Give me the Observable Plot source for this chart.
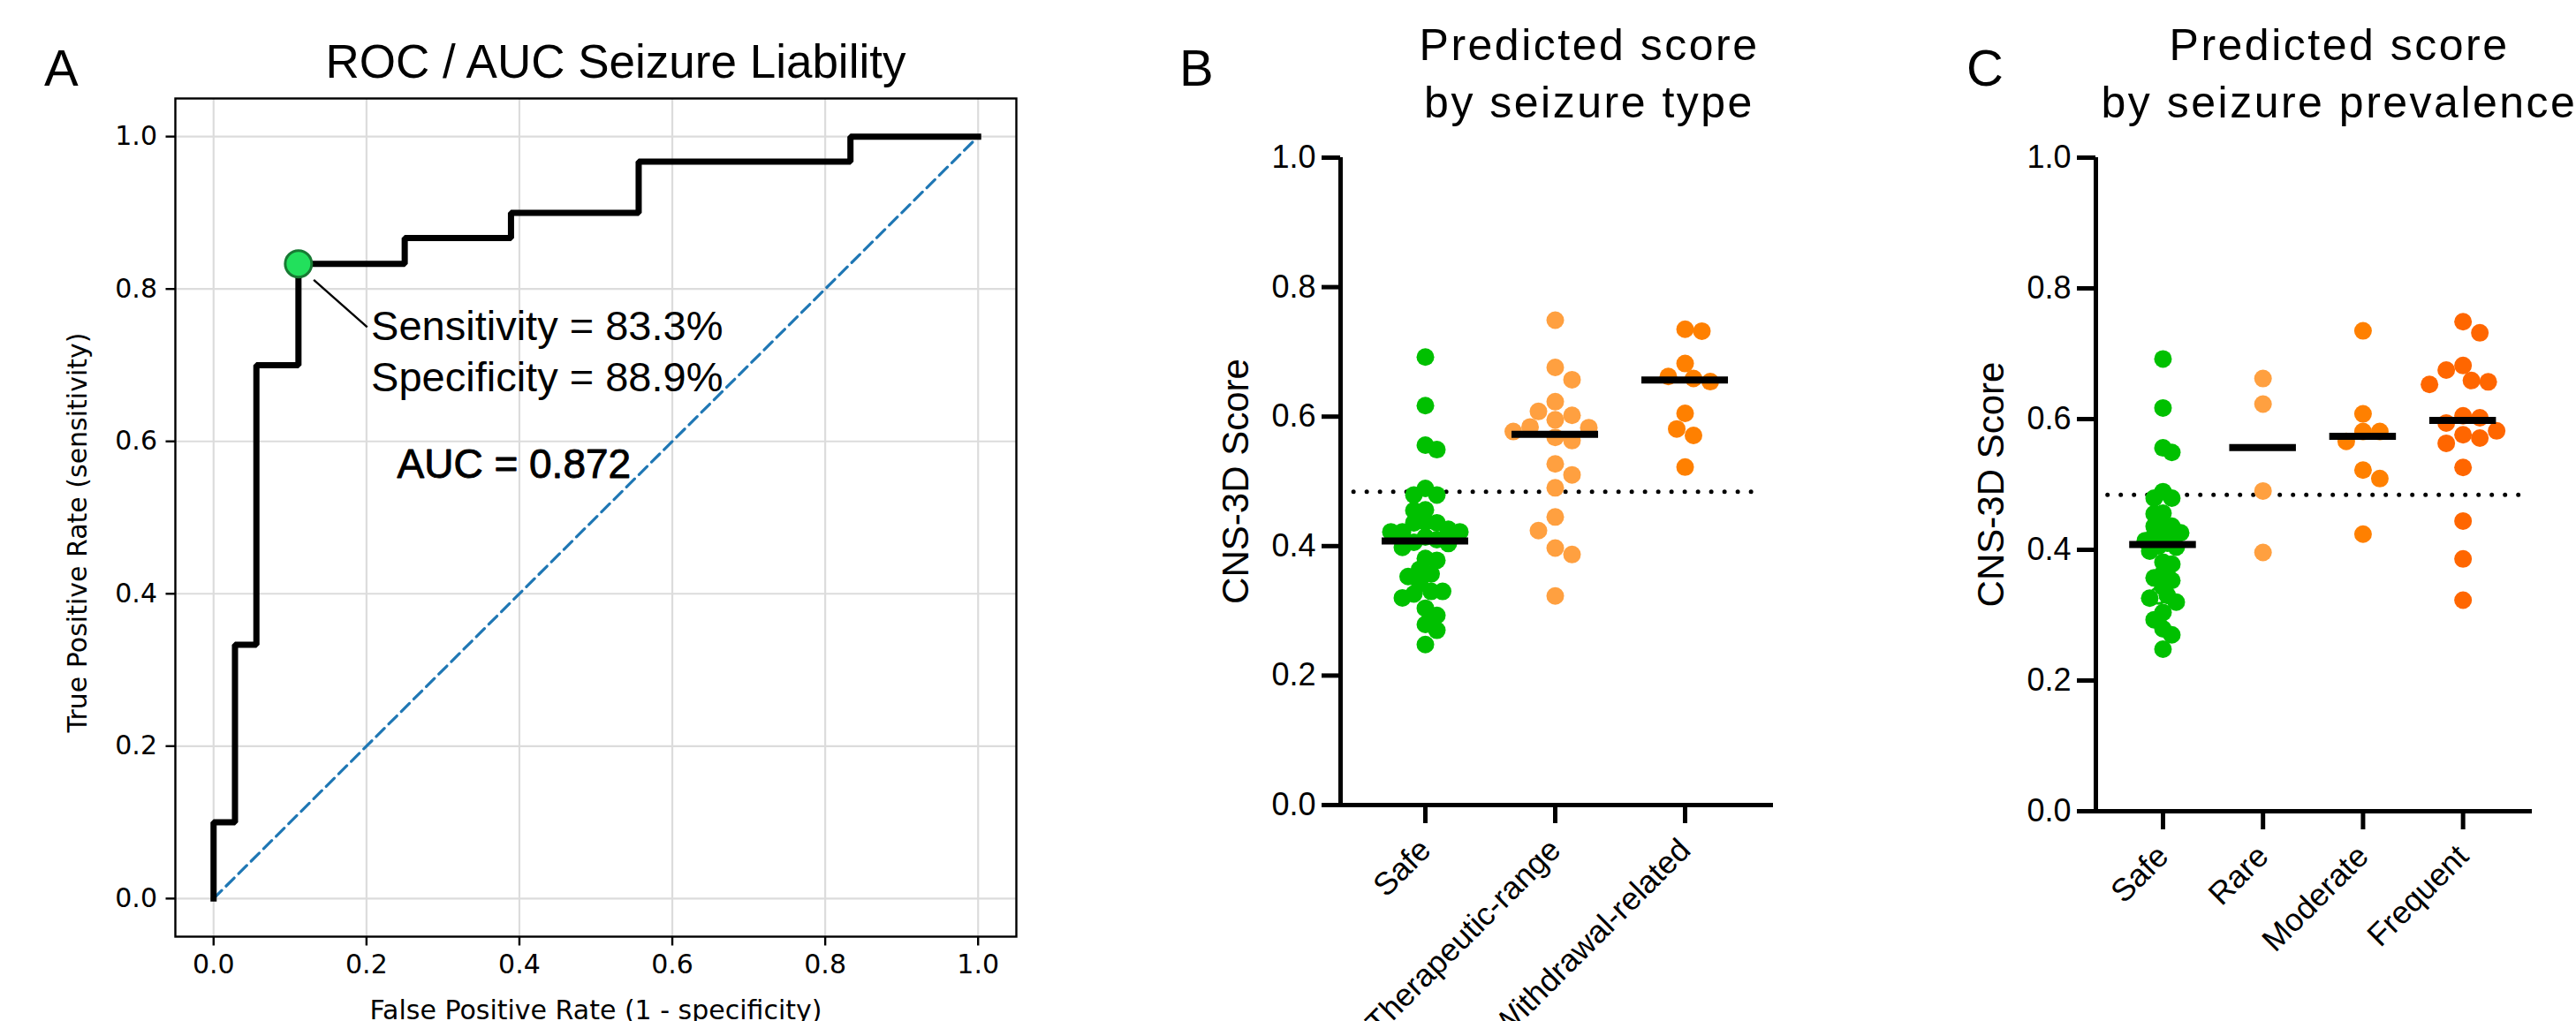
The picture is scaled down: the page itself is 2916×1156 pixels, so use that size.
<!DOCTYPE html>
<html><head><meta charset="utf-8">
<script src="https://cdn.jsdelivr.net/npm/d3@7"></script>
<script src="https://cdn.jsdelivr.net/npm/@observablehq/plot@0.6"></script>
<style>
html,body{margin:0;padding:0;background:#fff;width:2916px;height:1156px;overflow:hidden;}
#root{position:relative;width:2916px;height:1156px;overflow:hidden;}
.panel{position:absolute;top:0;}
.txt{position:absolute;font-family:"Liberation Sans",Arial,sans-serif;white-space:nowrap;color:#000;}
.letter{font-size:58px;line-height:75px;}
.title{text-align:center;}
</style></head><body><div id="root"></div>
<script>
// ---------- Panel A: ROC ----------
const rocFpr = [0, 0, 0.028, 0.028, 0.056, 0.056, 0.111, 0.111, 0.25, 0.25, 0.389, 0.389, 0.556, 0.556, 0.833, 0.833, 1.0];
const rocTpr = [0, 0.1, 0.1, 0.333, 0.333, 0.7, 0.7, 0.833, 0.833, 0.867, 0.867, 0.9, 0.9, 0.967, 0.967, 1.0, 1.0];
const optimalPoint = {fpr: 0.111, tpr: 0.833};
const chanceLine = [0, 1];
const rocTicks = [0, 0.2, 0.4, 0.6, 0.8, 1.0];
const calloutStart = [0.131, 0.812];
const calloutEnd = [0.201, 0.750];
const metricsTextAt = [0.206, 0.733, 0.666];
const aucTextAt = [0.24, 0.552];

// ---------- Panel B: by seizure type ----------
const typeCategories = ["Safe", "Therapeutic-range", "Withdrawal-related"];
const safeScores = [0.692, 0.617, 0.556, 0.549, 0.489, 0.479, 0.479, 0.456, 0.455, 0.437,
  0.436, 0.436, 0.426, 0.422, 0.422, 0.422, 0.414, 0.410, 0.406, 0.404,
  0.398, 0.381, 0.378, 0.364, 0.357, 0.353, 0.343, 0.330, 0.330, 0.326,
  0.320, 0.304, 0.293, 0.279, 0.270, 0.248];
const therapeuticScores = [0.749, 0.676, 0.657, 0.623, 0.608, 0.602, 0.595, 0.584, 0.583, 0.577,
  0.568, 0.563, 0.527, 0.510, 0.490, 0.445, 0.424, 0.397, 0.387, 0.323];
const withdrawalScores = [0.735, 0.732, 0.682, 0.662, 0.659, 0.654, 0.605, 0.581, 0.571, 0.522];

// ---------- Panel C: by seizure prevalence ----------
const prevalenceCategories = ["Safe", "Rare", "Moderate", "Frequent"];
const rareScores = [0.662, 0.623, 0.490, 0.396];
const moderateScores = [0.735, 0.608, 0.581, 0.581, 0.566, 0.522, 0.509, 0.424];
const frequentScores = [0.749, 0.732, 0.682, 0.675, 0.659, 0.657, 0.653, 0.605, 0.602, 0.594,
  0.582, 0.576, 0.571, 0.563, 0.526, 0.444, 0.386, 0.323];

const cutoffScore = 0.484;
const scoreTicks = [0, 0.2, 0.4, 0.6, 0.8, 1.0];

const GREEN = "#00c000", LIGHT_ORANGE = "#ffa040", ORANGE = "#ff8000", RED_ORANGE = "#ff6600";

const root = document.getElementById("root");
function addText(cls, html, style) {
  const d = document.createElement("div");
  d.className = "txt " + cls;
  d.innerHTML = html;
  Object.assign(d.style, style);
  root.appendChild(d);
}
function addPlot(svg, left) {
  const wrap = document.createElement("div");
  wrap.className = "panel";
  wrap.style.left = left + "px";
  wrap.appendChild(svg);
  root.appendChild(wrap);
}

// ---------- A ----------
const roc = rocFpr.map((f, i) => ({fpr: f, tpr: rocTpr[i]}));
const auc = d3.sum(d3.range(1, roc.length), i => (roc[i].fpr - roc[i - 1].fpr) * (roc[i].tpr + roc[i - 1].tpr) / 2);
const sensText = `Sensitivity = ${(optimalPoint.tpr * 100).toFixed(1)}%`;
const specText = `Specificity = ${((1 - optimalPoint.fpr) * 100).toFixed(1)}%`;
const aucText = `AUC = ${auc.toFixed(3)}`;

const plotA = Plot.plot({
  width: 1300, height: 1156,
  marginLeft: 198, marginRight: 150, marginTop: 111, marginBottom: 96,
  x: {domain: [-0.05, 1.05]},
  y: {domain: [-0.05, 1.05]},
  style: {fontFamily: "DejaVu Sans", fontSize: "30px", background: "transparent", overflow: "visible"},
  marks: [
    Plot.gridX({ticks: rocTicks, stroke: "#dcdcdc", strokeOpacity: 1, strokeWidth: 2.2}),
    Plot.gridY({ticks: rocTicks, stroke: "#dcdcdc", strokeOpacity: 1, strokeWidth: 2.2}),
    Plot.line(chanceLine, {x: d => d, y: d => d, stroke: "#1f77b4", strokeWidth: 3.2, strokeDasharray: "13,7"}),
    Plot.line(roc, {x: "fpr", y: "tpr", stroke: "#000", strokeWidth: 7, strokeLinejoin: "miter", strokeLinecap: "square"}),
    Plot.link([0], {x1: calloutStart[0], y1: calloutStart[1], x2: calloutEnd[0], y2: calloutEnd[1], stroke: "#000", strokeWidth: 2.4}),
    Plot.dot([optimalPoint], {x: "fpr", y: "tpr", r: 15, fill: "#22e05c", stroke: "#187a33", strokeWidth: 3}),
    Plot.text([sensText], {x: metricsTextAt[0], y: metricsTextAt[1], text: d => d, textAnchor: "start", lineAnchor: "bottom", fontSize: 47, fontFamily: "Liberation Sans"}),
    Plot.text([specText], {x: metricsTextAt[0], y: metricsTextAt[2], text: d => d, textAnchor: "start", lineAnchor: "bottom", fontSize: 47, fontFamily: "Liberation Sans"}),
    Plot.text([aucText], {x: aucTextAt[0], y: aucTextAt[1], text: d => d, textAnchor: "start", lineAnchor: "bottom", fontSize: 46, fontFamily: "Liberation Sans", fill: "#000", stroke: "#000", strokeWidth: 0.9}),
    Plot.frame({stroke: "#000", strokeWidth: 2.4}),
    Plot.axisX({ticks: rocTicks, tickFormat: ".1f", tickSize: 10.5, tickPadding: 10, strokeWidth: 2.4, fontSize: 30, label: null}),
    Plot.axisY({ticks: rocTicks, tickFormat: ".1f", tickSize: 10.5, tickPadding: 10, strokeWidth: 2.4, fontSize: 30, label: null}),
    Plot.text(["False Positive Rate (1 - specificity)"], {frameAnchor: "bottom", dy: 93, textAnchor: "middle", lineAnchor: "bottom", fontSize: 30}),
    Plot.text(["True Positive Rate (sensitivity)"], {frameAnchor: "left", dx: -110, dy: 17, rotate: -90, textAnchor: "middle", lineAnchor: "middle", fontSize: 30})
  ]
});
addPlot(plotA, 0);

// ---------- swarm layout (computed) ----------
function swarm(values, pxPerY, step, minDist) {
  const order = d3.range(values.length).sort((a, b) => d3.descending(values[a], values[b]));
  const placed = [];
  const off = new Array(values.length).fill(0);
  for (const i of order) {
    const y = values[i] * pxPerY;
    const sum = d3.sum(placed, p => p.x);
    for (let k = 0; k < 60; k++) {
      const cands = k === 0 ? [0] : (sum > 0 ? [-k * step, k * step] : [k * step, -k * step]);
      const hit = cands.find(c => placed.every(p => Math.hypot(p.x - c, p.y - y) >= minDist));
      if (hit !== undefined) { off[i] = hit; break; }
    }
    placed.push({x: off[i], y});
  }
  return off;
}

function scorePanel({categories, groups, colors, width, marginLeft, marginBottom, xDomain, steps, minDists, openIndex}) {
  const marginTop = 178;
  const height = 1156;
  const frameH = height - marginTop - marginBottom;
  const frameW = width - marginLeft - 50;
  const pxPerX = frameW / (xDomain[1] - xDomain[0]);
  const rows = groups.map((vals, gi) => {
    const off = swarm(vals, frameH, steps[gi], minDists[gi]);
    return vals.map((v, j) => ({g: gi, j, value: v, x: gi + off[j] / pxPerX}));
  });
  const medians = groups.map((vals, gi) => ({g: gi, m: d3.median(vals)}));
  const n = categories.length;
  const dotMarks = [];
  rows.forEach((r, gi) => {
    if (gi === 0 && openIndex != null) {
      dotMarks.push(Plot.dot(r.filter(d => d.j === openIndex), {x: "x", y: "value", r: 9, fill: "#fff", stroke: colors[gi], strokeWidth: 3}));
      dotMarks.push(Plot.dot(r.filter(d => d.j !== openIndex), {x: "x", y: "value", r: 10, fill: colors[gi]}));
    } else {
      dotMarks.push(Plot.dot(r, {x: "x", y: "value", r: 10, fill: colors[gi]}));
    }
  });
  return Plot.plot({
    width, height,
    marginLeft, marginRight: 50, marginTop, marginBottom,
    x: {domain: xDomain},
    y: {domain: [0, 1]},
    style: {fontFamily: "Liberation Sans", fontSize: "36px", background: "transparent", overflow: "visible"},
    marks: [
      Plot.ruleY([cutoffScore], {x1: -0.55, x2: n - 1 + 0.585, stroke: "#000", strokeWidth: 5, strokeDasharray: "0,15", strokeLinecap: "round"}),
      ...dotMarks,
      Plot.ruleY(medians, {y: "m", x1: d => d.g - 1 / 3, x2: d => d.g + 1 / 3, stroke: "#000", strokeWidth: 8}),
      Plot.ruleX([xDomain[0]], {x: d => d, y1: 0, y2: 1, stroke: "#000", strokeWidth: 5}),
      Plot.ruleY([0], {stroke: "#000", strokeWidth: 5}),
      Plot.axisY({ticks: scoreTicks, tickFormat: ".1f", tickSize: 21, tickPadding: 7, strokeWidth: 5, fontSize: 36, label: null}),
      Plot.axisX({ticks: d3.range(n), tickFormat: i => categories[i], tickSize: 21, tickPadding: 24, tickRotate: -45, strokeWidth: 5, fontSize: 36, label: null}),
      Plot.text(["CNS-3D Score"], {frameAnchor: "left", dx: -118, rotate: -90, textAnchor: "middle", lineAnchor: "middle", fontSize: 42})
    ]
  });
}

const plotB = scorePanel({
  categories: typeCategories,
  groups: [safeScores, therapeuticScores, withdrawalScores],
  colors: [GREEN, LIGHT_ORANGE, ORANGE],
  width: 757, marginLeft: 217, marginBottom: 245,
  xDomain: [-0.653, 2.680], steps: [6.5, 9.5, 9.5], minDists: [13, 19, 19]
});
addPlot(plotB, 1300);

const plotC = scorePanel({
  categories: prevalenceCategories,
  groups: [safeScores, rareScores, moderateScores, frequentScores],
  colors: [GREEN, LIGHT_ORANGE, ORANGE, RED_ORANGE],
  width: 766, marginLeft: 222, marginBottom: 238,
  xDomain: [-0.671, 3.692], steps: [5, 9.5, 9.5, 9.5], minDists: [10, 19, 19, 19], openIndex: 27
});
addPlot(plotC, 2150);

// ---------- titles and panel letters ----------
addText("letter", "A", {left: "50px", top: "39px"});
addText("letter", "B", {left: "1335px", top: "39px"});
addText("letter", "C", {left: "2226px", top: "39px"});
addText("title", "ROC / AUC Seizure Liability", {left: (697 - 600) + "px", width: "1200px", top: "35px", fontSize: "53px", lineHeight: "69px"});
addText("title", "Predicted score<br>by seizure type", {left: (1799 - 600) + "px", width: "1200px", top: "19px", fontSize: "50px", lineHeight: "65px", letterSpacing: "2.5px"});
addText("title", "Predicted score<br>by seizure prevalence", {left: (2648 - 600) + "px", width: "1200px", top: "19px", fontSize: "50px", lineHeight: "65px", letterSpacing: "2.5px"});
</script></body></html>
